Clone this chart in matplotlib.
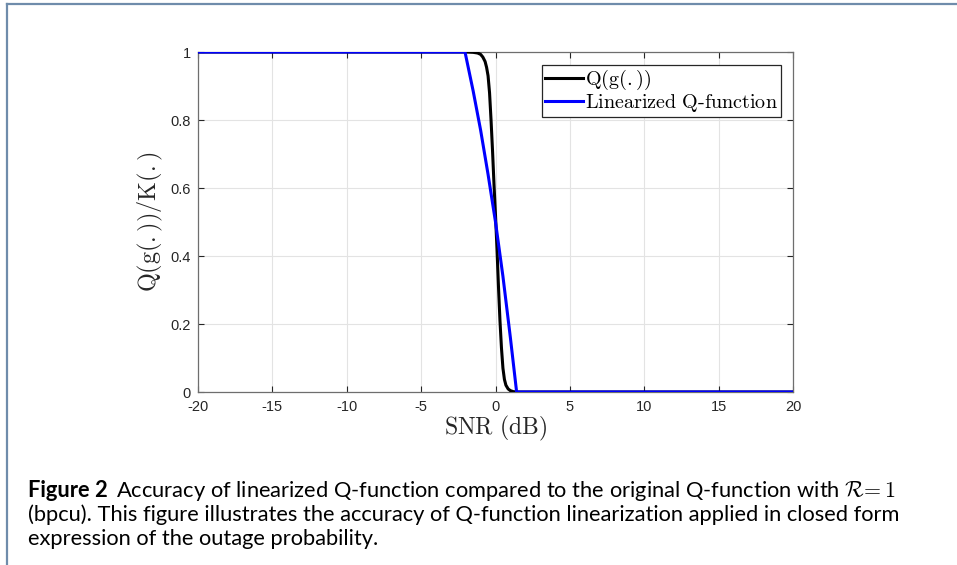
import matplotlib
matplotlib.use("Agg")
import matplotlib.pyplot as plt
from matplotlib.lines import Line2D

plt.rcParams['mathtext.fontset'] = 'cm'

# Data
snr_q = [-20, -2.0, -1.5, -1.2, -1.0, -0.85, -0.7, -0.6, -0.5, -0.4, -0.3, -0.2, -0.1, 0.0,
         0.1, 0.2, 0.3, 0.4, 0.5, 0.6, 0.7, 0.85, 1.0, 1.2, 1.5, 20]
q_vals = [1.0, 1.0, 0.999, 0.997, 0.993, 0.985, 0.972, 0.955, 0.93, 0.88, 0.8, 0.71, 0.61, 0.52,
          0.42, 0.31, 0.21, 0.13, 0.07, 0.037, 0.02, 0.009, 0.004, 0.001, 0.0, 0.0]

snr_k = [-20, -2.05, -1.5, -1.0, -0.5, 0.0, 0.5, 1.0, 1.42, 20]
k_vals = [1.0, 1.0, 0.885, 0.77, 0.64, 0.5, 0.34, 0.16, 0.0, 0.0]

xticks = [-20, -15, -10, -5, 0, 5, 10, 15, 20]
yticks = [0, 0.2, 0.4, 0.6, 0.8, 1]
xtick_labels = ['-20', '-15', '-10', '-5', '0', '5', '10', '15', '20']
ytick_labels = ['0', '0.2', '0.4', '0.6', '0.8', '1']

W, H = 957, 565
fig = plt.figure(figsize=(W / 100, H / 100), dpi=100)

# page frame lines
frame_c = '#6f8cab'
fig.add_artist(Line2D([7 / W, 7 / W], [0, 1 - 4 / H], color=frame_c, lw=1.6, transform=fig.transFigure))
fig.add_artist(Line2D([7 / W, 1], [1 - 4 / H, 1 - 4 / H], color=frame_c, lw=1.6, transform=fig.transFigure))

ax = fig.add_axes([198 / W, 1 - 392 / H, (793 - 198) / W, (392 - 52) / H])
axc = '#262626'
ax.plot(snr_q, q_vals, color='black', lw=2.2, label=r'$\mathrm{Q(g(.))}$', zorder=3,
        solid_joinstyle='round')
ax.plot(snr_k, k_vals, color='#0000ff', lw=2.2, label=r'$\mathrm{Linearized\ Q\text{-}function}$', zorder=3)

ax.set_xlim(-20, 20)
ax.set_ylim(0, 1)
ax.set_xticks(xticks)
ax.set_xticklabels(xtick_labels)
ax.set_yticks(yticks)
ax.set_yticklabels(ytick_labels)
ax.grid(True, color='#e3e3e3', lw=0.8)
ax.set_axisbelow(True)
for s in ax.spines.values():
    s.set_color('#6e6e6e')
    s.set_linewidth(0.9)
ax.tick_params(direction='in', top=True, right=True, length=4, width=0.8, color=axc,
               labelsize=10.5, labelcolor=axc)
ax.tick_params(axis='x', pad=6)
ax.tick_params(axis='y', pad=5)
for lbl in ax.get_xticklabels() + ax.get_yticklabels():
    lbl.set_family('Liberation Sans')

ax.set_xlabel(r'$\mathrm{SNR\ (dB)}$', fontsize=17, color=axc, labelpad=0)
ax.set_ylabel(r'$\mathrm{Q(g(.))/K(.)}$', fontsize=17.5, color=axc, labelpad=4)

leg = ax.legend(loc='upper right', bbox_to_anchor=(781 / W, 1 - 65 / H), bbox_transform=fig.transFigure,
                fontsize=14.5, frameon=True, fancybox=False, edgecolor='#262626', framealpha=1,
                handlelength=1.9, handletextpad=0.1, borderpad=0.15, labelspacing=0.0, borderaxespad=0)
leg.get_frame().set_linewidth(0.9)

# caption
fam = ['Lato', 'DejaVu Sans']
cap_fs = 14.0
y1 = 1 - 497 / H
t = fig.text(28 / W, y1, 'Figure 2', fontsize=cap_fs, fontweight='bold', family=fam, va='baseline')
t2 = fig.text(0, y1,
              r'Accuracy of linearized Q-function compared to the original Q-function with $\mathcal{R}\!=1$',
              fontsize=cap_fs, family=fam, va='baseline')
t3 = fig.text(28 / W, 1 - 521 / H,
              '(bpcu). This figure illustrates the accuracy of Q-function linearization applied in closed form',
              fontsize=cap_fs, family=fam, va='baseline')
t4 = fig.text(28 / W, 1 - 545 / H, 'expression of the outage probability.',
              fontsize=cap_fs, family=fam, va='baseline')

# fit caption line 1 to the reference width (28 px -> 897 px)
r = fig.canvas.get_renderer()
for _ in range(3):
    bb = t.get_window_extent(r)
    t2.set_x((bb.x1 + 8) / W)
    right = t2.get_window_extent(r).x1
    scale = (897 - 28) / (right - 28)
    cap_fs *= scale
    for tt in (t, t2, t3, t4):
        tt.set_fontsize(cap_fs)
bb = t.get_window_extent(r)
t2.set_x((bb.x1 + 8) / W)

fig.savefig('out.png', dpi=100)
